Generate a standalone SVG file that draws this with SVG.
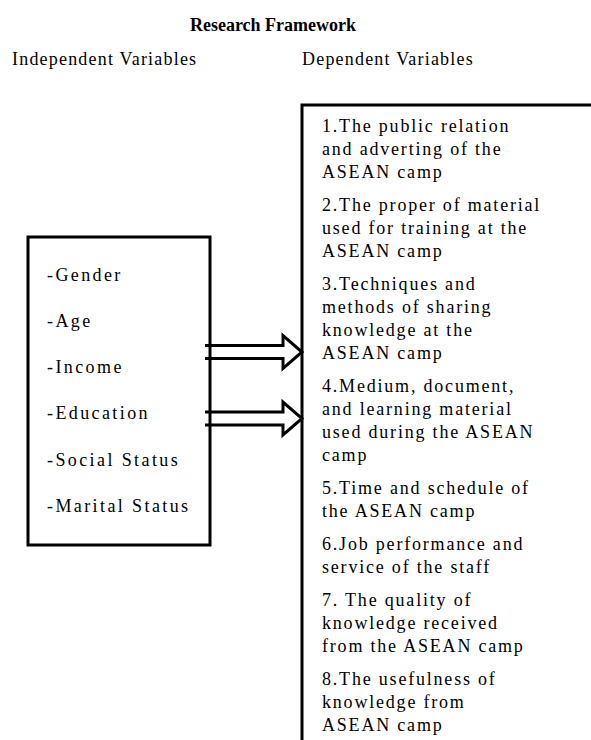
<svg xmlns="http://www.w3.org/2000/svg" width="591" height="740" viewBox="0 0 591 740">
<style>
.t{font-family:"Liberation Serif","Times New Roman",serif;font-size:18px;fill:#000}
.hd{letter-spacing:1.2px}
.li{letter-spacing:2.4px}
.ri{letter-spacing:1.8px}
.title{font-family:"Liberation Serif","Times New Roman",serif;font-size:18px;font-weight:bold;fill:#000}
.box{fill:none;stroke:#000;stroke-width:3}
.arr{fill:#fff;stroke:#000;stroke-width:3;stroke-linejoin:miter}
</style>
<rect width="591" height="740" fill="#fff"/>
<text class="title" x="273" y="31" text-anchor="middle">Research  Framework</text>
<text class="t hd" x="12" y="65">Independent Variables</text>
<text class="t hd" x="302" y="65">Dependent Variables</text>
<g id="connectors">
<polyline class="arr" points="205,345.5 283,345.5 283,335.5 302,352 283,368.5 283,358.5 205,358.5"/>
<polyline class="arr" points="205,412 283,412 283,402 302,418.5 283,435 283,425 205,425"/>
</g>
<g id="independent">
<rect class="box" x="28" y="237" width="182" height="308"/>
<text class="t li" x="47" y="281">-Gender</text>
<text class="t li" x="47" y="327">-Age</text>
<text class="t li" x="47" y="373">-Income</text>
<text class="t li" x="47" y="419">-Education</text>
<text class="t li" x="47" y="466">-Social Status</text>
<text class="t li" x="47" y="512">-Marital Status</text>
</g>
<g id="dependent">
<rect class="box" x="302" y="105" width="400" height="700"/>
<text class="t ri" x="322" y="132">1.The public relation</text>
<text class="t ri" x="322" y="155">and adverting of the</text>
<text class="t ri" x="322" y="178">ASEAN camp</text>
<text class="t ri" x="322" y="211">2.The proper of material</text>
<text class="t ri" x="322" y="234">used for training at the</text>
<text class="t ri" x="322" y="257">ASEAN camp</text>
<text class="t ri" x="322" y="290">3.Techniques and</text>
<text class="t ri" x="322" y="313">methods of sharing</text>
<text class="t ri" x="322" y="336">knowledge at the</text>
<text class="t ri" x="322" y="359">ASEAN camp</text>
<text class="t ri" x="322" y="392">4.Medium, document,</text>
<text class="t ri" x="322" y="415">and learning material</text>
<text class="t ri" x="322" y="438">used during the ASEAN</text>
<text class="t ri" x="322" y="461">camp</text>
<text class="t ri" x="322" y="494">5.Time and schedule of</text>
<text class="t ri" x="322" y="517">the ASEAN camp</text>
<text class="t ri" x="322" y="550">6.Job performance and</text>
<text class="t ri" x="322" y="573">service of the staff</text>
<text class="t ri" x="322" y="606">7. The quality of</text>
<text class="t ri" x="322" y="629">knowledge received</text>
<text class="t ri" x="322" y="652">from the ASEAN camp</text>
<text class="t ri" x="322" y="685">8.The usefulness of</text>
<text class="t ri" x="322" y="708">knowledge from</text>
<text class="t ri" x="322" y="731">ASEAN camp</text>
</g>
</svg>
